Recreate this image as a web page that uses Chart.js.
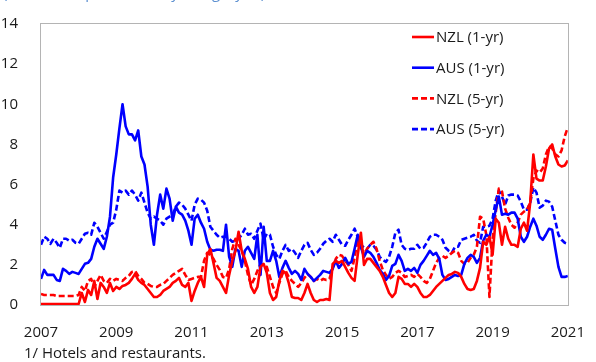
<!DOCTYPE html>
<html lang="en">
<head>
<meta charset="UTF-8">
<title>NZL and AUS inflation expectations</title>
<script src="https://cdn.jsdelivr.net/npm/chart.js@4"></script>
<style>
  html, body { margin: 0; padding: 0; background: #fff; overflow: hidden; }
  #wrap { position: absolute; left: 0; top: 0; width: 596px; height: 362px; }
  canvas { display: block; }
  #plotFrame { position: absolute; border: 1.5px solid #b4b4b4; box-sizing: border-box; pointer-events: none; }
</style>
</head>
<body>
<div id="wrap"><canvas id="expChart" width="596" height="362"></canvas><div id="plotFrame"></div></div>
<script>
// monthly observations, Jan 2007 - Jan 2021
const startYear = 2007;
const yTicks = [0, 2, 4, 6, 8, 10, 12, 14];
const xTicks = [2007, 2009, 2011, 2013, 2015, 2017, 2019, 2021];

const nzl1 = [
  0.05, 0.05, 0.05, 0.05, 0.05, 0.05, 0.05, 0.05, 0.05, 0.05, 0.05, 0.05,
  0.05, 0.6, 0.15, 0.75, 0.5, 1.2, 0.3, 1.1,
  0.9, 0.6, 1.1, 0.7, 0.9, 0.8, 0.95, 1.0, 1.1, 1.3,
  1.55, 1.25, 1.1, 1.0, 0.8, 0.6, 0.4, 0.4, 0.5, 0.7,
  0.8, 0.9, 1.1, 1.2, 1.35, 1.0, 0.9, 1.1, 0.2, 0.7,
  1.1, 1.4, 0.9, 2.5, 2.8, 2.1, 1.35, 1.2, 0.9, 0.6,
  1.5, 2.2, 2.7, 3.65, 2.7, 2.3, 1.8, 0.9, 0.6, 0.9,
  1.9, 2.05, 1.6, 0.6, 0.25, 0.4, 1.2, 1.7, 1.6, 1.1,
  0.4, 0.35, 0.35, 0.25, 0.6, 1.05, 0.6, 0.25, 0.15, 0.25,
  0.25, 0.3, 0.25, 2.05, 2.2, 2.1, 2.2, 1.9, 1.6, 1.35,
  1.2, 2.5, 3.6, 2.0, 2.3, 2.3, 2.1, 1.9, 1.7, 1.4,
  1.0, 0.6, 0.4, 0.6, 1.4, 1.3, 1.05, 1.05, 0.9, 1.05,
  0.9, 0.6, 0.4, 0.4, 0.5, 0.7, 0.9, 1.05, 1.2, 1.35,
  1.5, 1.55, 1.65, 1.6, 1.4, 1.05, 0.8, 0.75, 0.8, 1.2,
  1.85, 3.15, 3.0, 3.4, 2.5, 4.3, 4.1, 3.0, 3.9, 3.3,
  3.0, 3.0, 2.9, 3.8, 4.1, 3.7, 5.1, 7.5, 6.3, 6.2,
  6.2, 6.9, 7.8, 8.0, 7.4, 7.0, 6.9, 6.95, 7.2
];

const aus1 = [
  1.3, 1.75, 1.5, 1.5, 1.5, 1.25, 1.2, 1.8, 1.7, 1.55,
  1.65, 1.6, 1.55, 1.8, 2.05, 2.1, 2.3, 2.9, 3.3, 3.05,
  2.8, 3.4, 4.4, 6.35, 7.5, 8.8, 10.0, 8.9, 8.5, 8.5,
  8.2, 8.7, 7.4, 7.0, 5.9, 4.0, 3.0, 4.5, 5.5, 4.8,
  5.8, 5.3, 4.2, 4.9, 4.6, 4.5, 4.2, 3.7, 3.0, 4.3,
  4.5, 4.1, 3.8, 3.15, 2.75, 2.7, 2.75, 2.75, 2.7, 4.0,
  2.4, 1.9, 2.8, 2.7, 1.9, 2.7, 2.9, 2.6, 2.3, 3.5,
  1.5, 3.9, 2.2, 2.2, 2.7, 2.2, 1.4, 1.85, 2.2, 1.85,
  1.55, 1.7, 1.55, 1.25, 1.8, 1.55, 1.4, 1.2, 1.35, 1.5,
  1.7, 1.65, 1.6, 1.8, 2.2, 1.85, 2.05, 2.35, 2.05, 2.15,
  2.8, 3.5, 2.9, 2.4, 2.7, 2.6, 2.4, 2.1, 1.75, 1.55,
  1.25, 1.45, 1.95, 2.05, 2.5, 2.2, 1.7, 1.8, 1.7, 1.85,
  1.6, 2.0, 2.2, 2.45, 2.7, 2.5, 2.6, 2.3, 1.5, 1.25,
  1.3, 1.4, 1.5, 1.45, 1.5, 2.05, 2.35, 2.5, 2.4, 2.1,
  2.35, 3.2, 3.5, 3.4, 4.0, 4.75, 5.4, 4.5, 4.55, 4.5,
  4.6, 4.6, 4.3, 3.4, 3.15, 3.4, 3.9, 4.3, 3.95, 3.4,
  3.25, 3.5, 3.8, 3.75, 2.8, 1.9, 1.4, 1.4, 1.45
];

const nzl5 = [
  0.55, 0.5, 0.5, 0.5, 0.5, 0.45, 0.45, 0.45, 0.45, 0.45, 0.45, 0.45,
  0.5, 0.9, 0.7, 1.2, 1.3, 0.9, 1.2, 1.5,
  1.2, 1.1, 1.3, 1.2, 1.3, 1.25, 1.2, 1.35, 1.45, 1.65,
  1.7, 1.45, 1.3, 1.1, 1.05, 0.95, 0.9, 0.9, 1.0, 1.05,
  1.2, 1.35, 1.5, 1.6, 1.7, 1.8, 1.5, 1.25, 1.3, 1.35,
  1.4, 1.4, 2.2, 2.6, 2.5, 2.3, 2.0, 1.75, 1.4, 1.35,
  1.8, 2.8, 3.3, 3.0, 2.7, 2.2, 1.5, 1.0, 1.3, 1.7,
  2.05, 2.0, 1.9, 1.4, 0.9, 0.6, 1.1, 1.55, 1.7, 1.4,
  1.2, 1.05, 0.9, 1.1, 1.35, 1.55, 1.4, 1.2, 1.3, 1.2,
  1.3, 1.25, 1.3, 1.85, 2.3, 2.5, 2.45, 2.2, 2.0, 1.7,
  2.35, 3.3, 2.9, 2.55, 2.8, 3.0, 3.15, 2.8, 2.2, 1.75,
  1.5, 1.3, 1.4, 1.6, 1.7, 1.6, 1.4, 1.45, 1.5, 1.4,
  1.55, 1.4, 1.2, 1.1, 1.3, 1.7, 2.1, 2.35, 2.45, 2.35,
  2.45, 2.6, 2.7, 2.6, 2.2, 2.05, 2.1, 2.35, 2.5, 2.9,
  4.4, 4.3, 3.5, 0.4, 3.3, 4.6, 5.8, 5.65, 4.8, 4.35,
  4.0, 3.85, 4.1, 4.5, 4.65, 4.75, 5.1, 6.3, 6.7, 6.6,
  6.8, 7.5, 7.9, 7.8, 7.5, 7.4, 7.7, 8.4, 8.85
];

const aus5 = [
  3.0, 3.4, 3.3, 3.05, 3.3, 3.1, 2.85, 3.3, 3.3, 3.2,
  3.25, 3.1, 3.05, 3.3, 3.55, 3.6, 3.5, 4.1, 3.9, 3.6,
  3.3, 3.65, 4.0, 4.1, 4.75, 5.7, 5.6, 5.7, 5.5, 5.7,
  5.5, 5.2, 5.6, 5.1, 4.6, 4.3, 4.4, 4.3, 4.2, 4.0,
  4.3, 4.4, 4.5, 4.9, 5.1, 5.0, 4.8, 4.5, 4.2, 5.0,
  5.3, 5.25, 5.1, 4.7, 3.9, 3.7, 3.5, 3.35, 3.4, 3.4,
  3.3, 3.15, 3.2, 3.3, 3.5, 3.8, 3.5, 3.55, 3.3, 3.7,
  4.05, 3.25, 3.55, 3.5, 2.9, 2.5, 2.3, 2.7, 3.0, 2.7,
  2.8, 2.6, 2.35, 2.7, 3.0, 3.1, 2.75, 2.5, 2.6, 2.8,
  3.05, 3.2, 3.3, 3.15, 3.5, 3.25, 3.0, 2.95, 3.25, 3.5,
  3.8, 3.4, 3.0, 2.85, 2.8, 3.0, 2.95, 2.75, 2.4, 2.25,
  2.15, 2.4, 2.9, 3.6, 3.75, 3.0, 2.8, 2.75, 2.8, 2.8,
  3.0, 2.8, 2.85, 3.1, 3.4, 3.5, 3.5, 3.4, 3.25, 2.85,
  2.7, 2.6, 2.9, 2.9, 3.25, 3.3, 3.35, 3.4, 3.5, 3.2,
  3.1, 3.9, 3.9, 3.95, 4.3, 5.2, 5.7, 5.4, 5.0, 5.45,
  5.5, 5.5, 5.45, 5.15, 4.75, 4.75, 5.1, 5.85, 5.6, 4.85,
  4.95, 5.2, 5.15, 4.9, 4.2, 3.5, 3.25, 3.1, 3.05
];

const seriesLabels = ['NZL (1-yr)', 'AUS (1-yr)', 'NZL (5-yr)', 'AUS (5-yr)'];
const subtitle = '(Percent; expectations by category 1/)';
const footnote = '1/ Hotels and restaurants.';

const RED = '#ff0000';
const BLUE = '#0000ff';
const DASH = [6, 3];
const FONT = '"Open Sans", "Noto Sans", sans-serif';

function toPoints(values) {
  return values.map((v, i) => ({ x: startYear + i / 12, y: v }));
}

function lineSet(label, values, color, dashed) {
  return {
    label: label,
    data: toPoints(values),
    borderColor: color,
    backgroundColor: color,
    borderWidth: 2.6,
    borderDash: dashed ? DASH : [],
    borderJoinStyle: 'round',
    pointRadius: 0,
    tension: 0,
    fill: false
  };
}

// legend and the text around the plot
const decorations = {
  id: 'decorations',
  afterDraw(chart) {
    const { ctx } = chart;
    ctx.save();
    ctx.font = '15px ' + FONT;
    ctx.textBaseline = 'middle';
    ctx.textAlign = 'left';
    chart.data.datasets.forEach((ds, i) => {
      const y = 37 + i * 30.7;
      ctx.strokeStyle = ds.borderColor;
      ctx.lineWidth = 2.6;
      ctx.setLineDash(ds.borderDash);
      ctx.beginPath();
      ctx.moveTo(412, y);
      ctx.lineTo(434, y);
      ctx.stroke();
      ctx.setLineDash([]);
      ctx.fillStyle = '#1a1a1a';
      ctx.fillText(ds.label, 436, y + 1);
    });

    // subtitle sits just above the canvas top, only its lower edge shows
    ctx.textBaseline = 'alphabetic';
    ctx.fillStyle = '#5b8fd0';
    ctx.fillText(subtitle, 3, -2);
    ctx.fillStyle = '#1a1a1a';
    ctx.fillText(footnote, 24, 358);
    ctx.restore();
  }
};

const chart = new Chart(document.getElementById('expChart'), {
  type: 'line',
  data: {
    datasets: [
      lineSet(seriesLabels[0], nzl1, RED, false),
      lineSet(seriesLabels[1], aus1, BLUE, false),
      lineSet(seriesLabels[2], nzl5, RED, true),
      lineSet(seriesLabels[3], aus5, BLUE, true)
    ]
  },
  options: {
    responsive: false,
    animation: false,
    devicePixelRatio: 1,
    layout: { padding: { top: 17, right: 14, left: 0, bottom: 0 } },
    plugins: {
      legend: { display: false },
      tooltip: { enabled: false }
    },
    scales: {
      x: {
        type: 'linear',
        min: xTicks[0],
        max: xTicks[xTicks.length - 1],
        grid: { display: false },
        border: { display: false },
        afterBuildTicks: s => { s.ticks = xTicks.map(v => ({ value: v })); },
        afterFit: s => { s.height = 57; },
        ticks: {
          padding: 11,
          maxRotation: 0,
          autoSkip: false,
          color: '#1a1a1a',
          font: { size: 15, family: FONT },
          callback: v => String(v)
        }
      },
      y: {
        min: yTicks[0],
        max: yTicks[yTicks.length - 1],
        grid: { display: false },
        border: { display: false },
        afterBuildTicks: s => { s.ticks = yTicks.map(v => ({ value: v })); },
        afterFit: s => { s.width = 41; },
        ticks: {
          padding: 15,
          color: '#1a1a1a',
          font: { size: 15, family: FONT }
        }
      }
    }
  },
  plugins: [decorations]
});

// grey box around the plot area, placed from the chart's own layout
const area = chart.chartArea;
const box = document.getElementById('plotFrame');
box.style.left = (area.left - 1) + 'px';
box.style.top = (area.top - 1) + 'px';
box.style.width = (area.right - area.left + 2) + 'px';
box.style.height = (area.bottom - area.top + 2) + 'px';
</script>
</body>
</html>
